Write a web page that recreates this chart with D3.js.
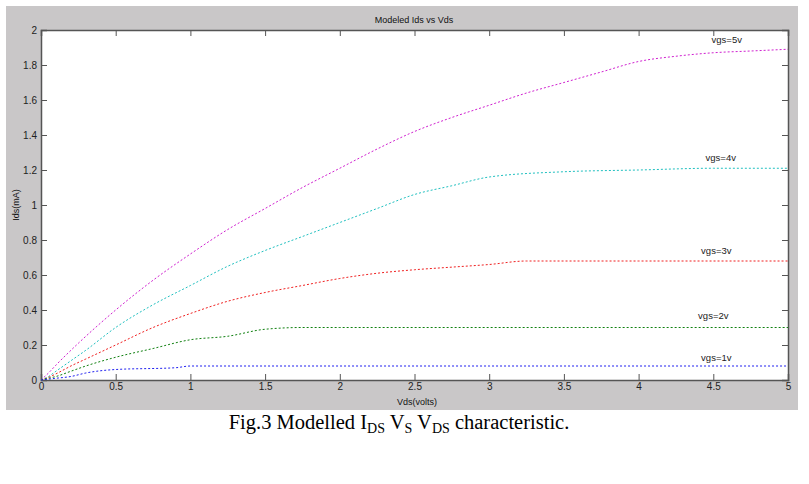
<!DOCTYPE html>
<html><head><meta charset="utf-8">
<script src="https://cdn.jsdelivr.net/npm/d3@7"></script>
<style>body{margin:0;background:#fff}svg{display:block}</style>
</head><body><svg id="c" width="809" height="484"></svg>
<script>
const vds5 = [0,0.05,0.1,0.25,0.5,0.75,1,1.25,1.5,1.75,2,2.25,2.5,2.75,3,3.25,3.5,3.75,4,4.25,4.5,4.75,5];
const ids5 = [0,0.04,0.085,0.21,0.4,0.57,0.72,0.86,0.98,1.1,1.21,1.32,1.42,1.5,1.57,1.64,1.70,1.76,1.82,1.85,1.87,1.88,1.89];
const vds4 = [0,0.05,0.1,0.2,0.3,0.5,0.75,1,1.25,1.5,1.75,2,2.25,2.5,2.75,3,3.5,4,4.5,5];
const ids4 = [0,0.02,0.05,0.11,0.17,0.3,0.43,0.54,0.65,0.74,0.82,0.9,0.98,1.06,1.11,1.16,1.19,1.2,1.21,1.21];
const vds3 = [0,0.05,0.1,0.2,0.3,0.5,0.75,1,1.25,1.5,1.75,2,2.25,2.5,2.75,3,3.25,4,5];
const ids3 = [0,0.015,0.035,0.08,0.12,0.2,0.3,0.38,0.45,0.5,0.54,0.58,0.61,0.63,0.645,0.66,0.68,0.68,0.68];
const vds2 = [0,0.05,0.1,0.2,0.3,0.5,0.75,1,1.25,1.5,1.75,2,3,4,5];
const ids2 = [0,0.01,0.02,0.05,0.08,0.13,0.18,0.23,0.25,0.29,0.3,0.3,0.3,0.3,0.3];
const vds1 = [0,0.05,0.1,0.2,0.3,0.5,0.9,1,2,3,4,5];
const ids1 = [0,0.005,0.01,0.02,0.04,0.06,0.07,0.08,0.08,0.08,0.08,0.08];
const seriesNames = ["vgs=5v","vgs=4v","vgs=3v","vgs=2v","vgs=1v"];
const labelVds = [4.59,4.55,4.52,4.5,4.52];
const labelIds = [1.926,1.25,0.72,0.35,0.11];
const xTicks = [0,0.5,1,1.5,2,2.5,3,3.5,4,4.5,5];
const yTicks = [0,0.2,0.4,0.6,0.8,1,1.2,1.4,1.6,1.8,2];

const colors = ["#d020d0","#20c0c0","#f02020","#108010","#2020f0"];

const svg = d3.select("#c");
svg.append("rect").attr("x",6).attr("y",6).attr("width",792).attr("height",404).attr("fill","#c9c7c8");
const L=41,R=788,T=30,B=380;
const x = d3.scaleLinear().domain([0,5]).range([L,R]);
const y = d3.scaleLinear().domain([0,2]).range([B,T]);
svg.append("rect").attr("x",L).attr("y",T).attr("width",R-L).attr("height",B-T).attr("fill","#fff");

const font = "Arial, 'Liberation Sans', sans-serif";
const xb = svg.append("g").attr("transform",`translate(0,${B})`).call(d3.axisBottom(x).tickValues(xTicks).tickSize(-6).tickPadding(3).tickFormat(d3.format("")));
const xt = svg.append("g").attr("transform",`translate(0,${T})`).call(d3.axisTop(x).tickValues(xTicks).tickSize(-6).tickFormat(""));
const yl = svg.append("g").attr("transform",`translate(${L},0)`).call(d3.axisLeft(y).tickValues(yTicks).tickSize(-6).tickPadding(4).tickFormat(d3.format("")));
const yr = svg.append("g").attr("transform",`translate(${R},0)`).call(d3.axisRight(y).tickValues(yTicks).tickSize(-6).tickFormat(""));
[xb,xt,yl,yr].forEach(g=>{
  g.select(".domain").attr("stroke","#555").attr("stroke-width",1.5);
  g.selectAll(".tick line").attr("stroke","#555");
  g.selectAll("text").attr("font-family",font).attr("font-size",10).attr("fill","#222");
});
xb.selectAll("text").attr("dy","0.71em");

const data = [[vds5,ids5],[vds4,ids4],[vds3,ids3],[vds2,ids2],[vds1,ids1]];
const line = d3.line().x(d=>x(d[0])).y(d=>y(d[1])).curve(d3.curveMonotoneX);
data.forEach((s,i)=>{
  const pts = s[0].map((v,j)=>[v,s[1][j]]);
  svg.append("path").attr("d",line(pts)).attr("fill","none").attr("stroke",colors[i])
    .attr("stroke-width",1).attr("stroke-dasharray","2,2");
  svg.append("text").attr("x",x(labelVds[i])).attr("y",y(labelIds[i]))
    .attr("text-anchor","middle").attr("font-family",font).attr("font-size",9.5).attr("fill","#222").text(seriesNames[i]);
});

svg.append("text").attr("x",414).attr("y",23).attr("text-anchor","middle").attr("font-family",font).attr("font-size",9).attr("fill","#111").text("Modeled Ids vs Vds");
svg.append("text").attr("x",417).attr("y",405).attr("text-anchor","middle").attr("font-family",font).attr("font-size",9).attr("fill","#111").text("Vds(volts)");
svg.append("text").attr("transform","translate(19,205) rotate(-90)").attr("text-anchor","middle").attr("font-family",font).attr("font-size",9).attr("fill","#111").text("Ids(mA)");

const cap = svg.append("text").attr("x",399).attr("y",429).attr("text-anchor","middle")
  .attr("font-family","'Liberation Serif','Times New Roman',serif").attr("font-size",20.5).attr("fill","#000");
cap.append("tspan").text("Fig.3 Modelled I");
cap.append("tspan").attr("font-size",14).attr("dy",4).text("DS");
cap.append("tspan").attr("dy",-4).text(" V");
cap.append("tspan").attr("font-size",14).attr("dy",4).text("S");
cap.append("tspan").attr("dy",-4).text(" V");
cap.append("tspan").attr("font-size",14).attr("dy",4).text("DS");
cap.append("tspan").attr("dy",-4).text(" characteristic.");
</script></body></html>
